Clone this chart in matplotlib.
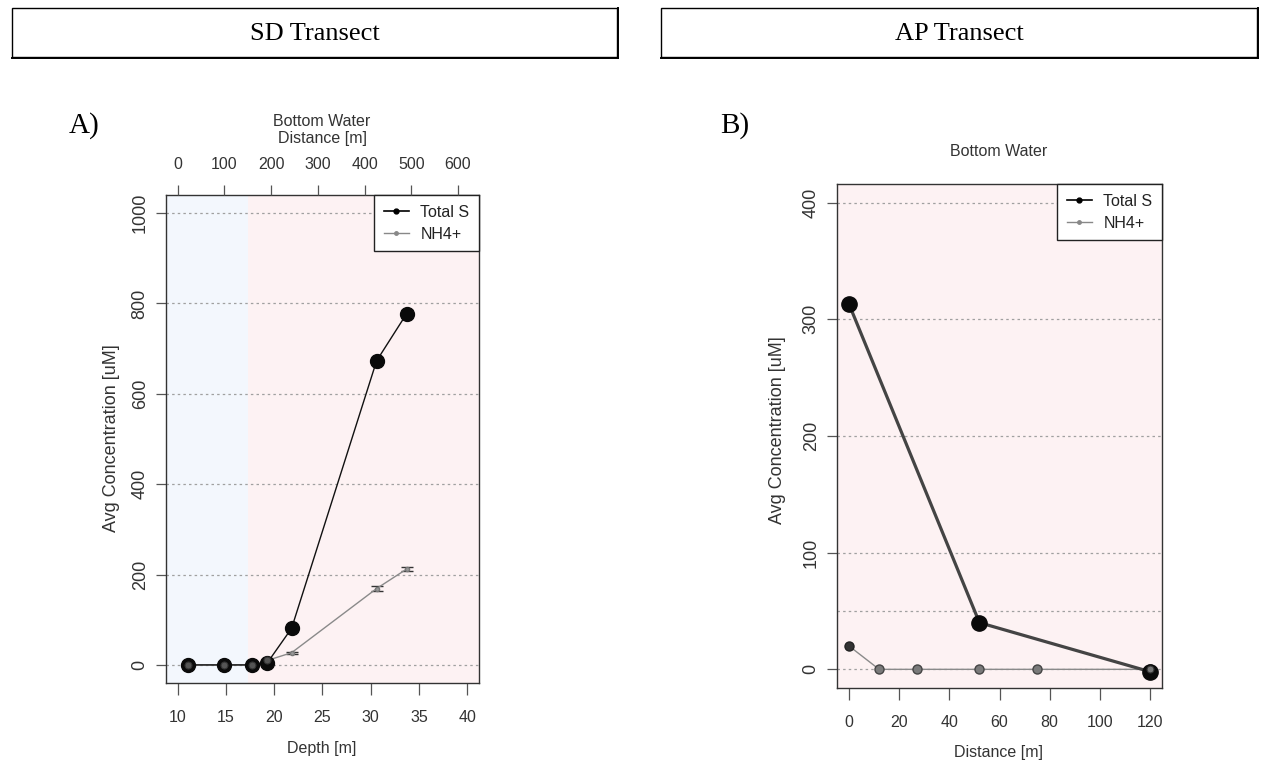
import matplotlib
matplotlib.use("Agg")
import matplotlib.pyplot as plt
from matplotlib.patches import Rectangle
from matplotlib.lines import Line2D

# ---------------- data ----------------
# SD transect (bottom water): depth [m] of each station
sd_depth = [11.1, 14.8, 17.7, 19.3, 21.8, 30.6, 33.7]
sd_total_s = [0, 0, 0, 5, 81, 673, 777]
sd_total_s_err = [2, 2, 2, 3, 4, 6, 8]
sd_nh4 = [0, 0, 0, 10, 27, 169, 212]
sd_nh4_err = [1, 1, 1, 2, 2, 5, 4]
sd_depth_ticks = [10, 15, 20, 25, 30, 35, 40]
sd_conc_ticks = [0, 200, 400, 600, 800, 1000]
sd_dist_ticks = [0, 100, 200, 300, 400, 500, 600]
sd_shade_dist = 150          # distance [m] where the shaded zone changes

# AP transect (bottom water): distance [m]
ap_dist_total_s = [0, 52, 120]
ap_total_s = [313, 40, -2]
ap_dist_nh4 = [0, 12, 27, 52, 75, 120]
ap_nh4 = [20, 0, 0, 0, 0, 0]
ap_dist_ticks = [0, 20, 40, 60, 80, 100, 120]
ap_conc_ticks = [0, 100, 200, 300, 400]
ap_grid = [0, 50, 100, 200, 300, 400]

# ---------------- style ----------------
W, H = 1261, 764
SANS = ["Liberation Sans", "DejaVu Sans"]
SERIF = ["Liberation Serif", "DejaVu Serif"]
plt.rcParams["font.family"] = SANS
TXT = "#333333"
TICK = "#555555"
PINK = "#FDF2F3"
BLUE = "#F3F7FD"
FS = 11.5       # horizontal text
FSV = 13        # rotated text

fig = plt.figure(figsize=(W / 100, H / 100), dpi=100)


def box(l, t, r, b):
    return [l / W, 1 - b / H, (r - l) / W, (b - t) / H]


def fx(px):
    return px / W


def fy(py):
    return 1 - py / H


def style_axes(ax):
    for s in ax.spines.values():
        s.set_color("#333333")
        s.set_linewidth(1.0)
    ax.tick_params(axis="x", length=8.5, width=0.9, color=TICK, pad=11,
                   labelsize=FS, labelcolor=TXT)
    ax.tick_params(axis="y", length=7.5, width=0.9, color=TICK, pad=5,
                   labelsize=FSV, labelcolor=TXT, labelrotation=90)
    for lb in ax.get_yticklabels():
        lb.set_va("center")


def legend(ax):
    handles = [
        Line2D([], [], color="black", lw=1.2, marker="o", ms=3.5),
        Line2D([], [], color="#888888", lw=1.0, marker="o", ms=2.5),
    ]
    lg = ax.legend(handles, ["Total S", "NH4+"], loc="upper right",
                   borderaxespad=0, fancybox=False, framealpha=1,
                   edgecolor="#222222", fontsize=FS, handlelength=1.6,
                   borderpad=0.6, labelspacing=0.45, handletextpad=0.7)
    lg.get_frame().set_linewidth(1.0)
    for t in lg.get_texts():
        t.set_color("#222222")
    lg.set_zorder(10)


# ---------------- header boxes ----------------
def header(l, t, r, b, text):
    fig.add_artist(Rectangle((fx(l), fy(b)), (r - l) / W, (b - t) / H,
                             transform=fig.transFigure, fill=False,
                             edgecolor="black", lw=1.0))
    # heavier bottom and right edges
    fig.add_artist(Line2D([fx(l), fx(r) + 1 / W], [fy(b) - 1 / H] * 2,
                          transform=fig.transFigure, color="black", lw=1.4))
    fig.add_artist(Line2D([fx(r) + 1 / W] * 2, [fy(t), fy(b) - 1 / H],
                          transform=fig.transFigure, color="black", lw=1.4))
    fig.text(fx((l + r) / 2), fy((t + b) / 2 + 1), text, family=SERIF,
             fontsize=19, ha="center", va="center", color="black")


header(12, 8, 617, 57, "SD Transect")
header(661, 8, 1257, 57, "AP Transect")

fig.text(fx(84), fy(126), "A)", family=SERIF, fontsize=21,
         ha="center", va="center", color="black")
fig.text(fx(735), fy(126), "B)", family=SERIF, fontsize=21,
         ha="center", va="center", color="black")

# ---------------- panel A ----------------
axA = fig.add_axes(box(166, 195, 479, 683))
axA.set_xlim(8.8, 41.2)
axA.set_ylim(-40, 1040)
axA.set_facecolor(PINK)
axT = axA.twiny()
axT.set_xlim(-24.8, 644.8)

x0, x1 = axA.get_xlim()
d0, d1 = axT.get_xlim()
shade_depth = x0 + (sd_shade_dist - d0) / (d1 - d0) * (x1 - x0)
axA.axvspan(x0, shade_depth, color=BLUE, lw=0, zorder=0)

for g in sd_conc_ticks:
    axA.axhline(g, color="#a0a0a0", lw=0.9, ls=(0, (2, 2.5)), zorder=1)

axA.errorbar(sd_depth, sd_nh4, yerr=sd_nh4_err, color="#8a8a8a", lw=1.0,
             marker="o", ms=3, mfc="#999999", mec="#777777",
             ecolor="#333333", elinewidth=1.0, capsize=4, zorder=3)
axA.errorbar(sd_depth, sd_total_s, yerr=sd_total_s_err, color="#111111",
             lw=1.0, marker="o", ms=10, mfc="#0a0a0a", mec="#0a0a0a",
             ecolor="#111111", elinewidth=1.0, capsize=4, zorder=4)
# NH4+ markers drawn on top where the curves overlap near zero
axA.plot(sd_depth[:4], sd_nh4[:4], ls="none", marker="o", ms=5,
         mfc="#555555", mec="#333333", mew=0.8, zorder=5)

axA.set_xticks(sd_depth_ticks)
axA.set_yticks(sd_conc_ticks)
style_axes(axA)
axT.set_xticks(sd_dist_ticks)
axT.tick_params(axis="x", length=7.5, width=0.9, color=TICK, pad=9,
                labelsize=FS, labelcolor=TXT)
for s in axT.spines.values():
    s.set_visible(False)
legend(axA)

fig.text(fx(322), fy(748), "Depth [m]", fontsize=FS, color=TXT,
         ha="center", va="center")
fig.text(fx(111), fy(438), "Avg Concentration [uM]", fontsize=FSV,
         color=TXT, ha="center", va="center", rotation=90)
fig.text(fx(322), fy(121), "Bottom Water", fontsize=FS, color=TXT,
         ha="center", va="center")
fig.text(fx(322), fy(138), "Distance [m]", fontsize=FS, color=TXT,
         ha="center", va="center")

# ---------------- panel B ----------------
axB = fig.add_axes(box(837, 184, 1162, 688))
axB.set_xlim(-4.8, 124.8)
axB.set_ylim(-16, 416)
axB.set_facecolor(PINK)

for g in ap_grid:
    axB.axhline(g, color="#a0a0a0", lw=0.9, ls=(0, (2, 2.5)), zorder=1)

axB.plot(ap_dist_nh4, ap_nh4, color="#8a8a8a", lw=1.0, zorder=3)
axB.plot(ap_dist_nh4[1:], ap_nh4[1:], ls="none", marker="o", ms=6.5,
         mfc="#7a7a7a", mec="#444444", mew=1.0, zorder=3)
axB.plot(ap_dist_nh4[:1], ap_nh4[:1], ls="none", marker="o", ms=6.5,
         mfc="#333333", mec="#222222", mew=1.0, zorder=3)
axB.plot(ap_dist_total_s, ap_total_s, color="#444444", lw=2.3,
         marker="o", ms=11, mfc="#0a0a0a", mec="#0a0a0a", zorder=4)
axB.plot(ap_dist_nh4[-1:], ap_nh4[-1:], ls="none", marker="o", ms=5,
         mfc="#777777", mec="#333333", mew=0.8, zorder=5)

axB.set_xticks(ap_dist_ticks)
axB.set_yticks(ap_conc_ticks)
style_axes(axB)
legend(axB)

fig.text(fx(999), fy(752), "Distance [m]", fontsize=FS, color=TXT,
         ha="center", va="center")
fig.text(fx(777), fy(430), "Avg Concentration [uM]", fontsize=FSV,
         color=TXT, ha="center", va="center", rotation=90)
fig.text(fx(999), fy(151), "Bottom Water", fontsize=FS, color=TXT,
         ha="center", va="center")

fig.savefig("out.png", dpi=100, facecolor="white")
